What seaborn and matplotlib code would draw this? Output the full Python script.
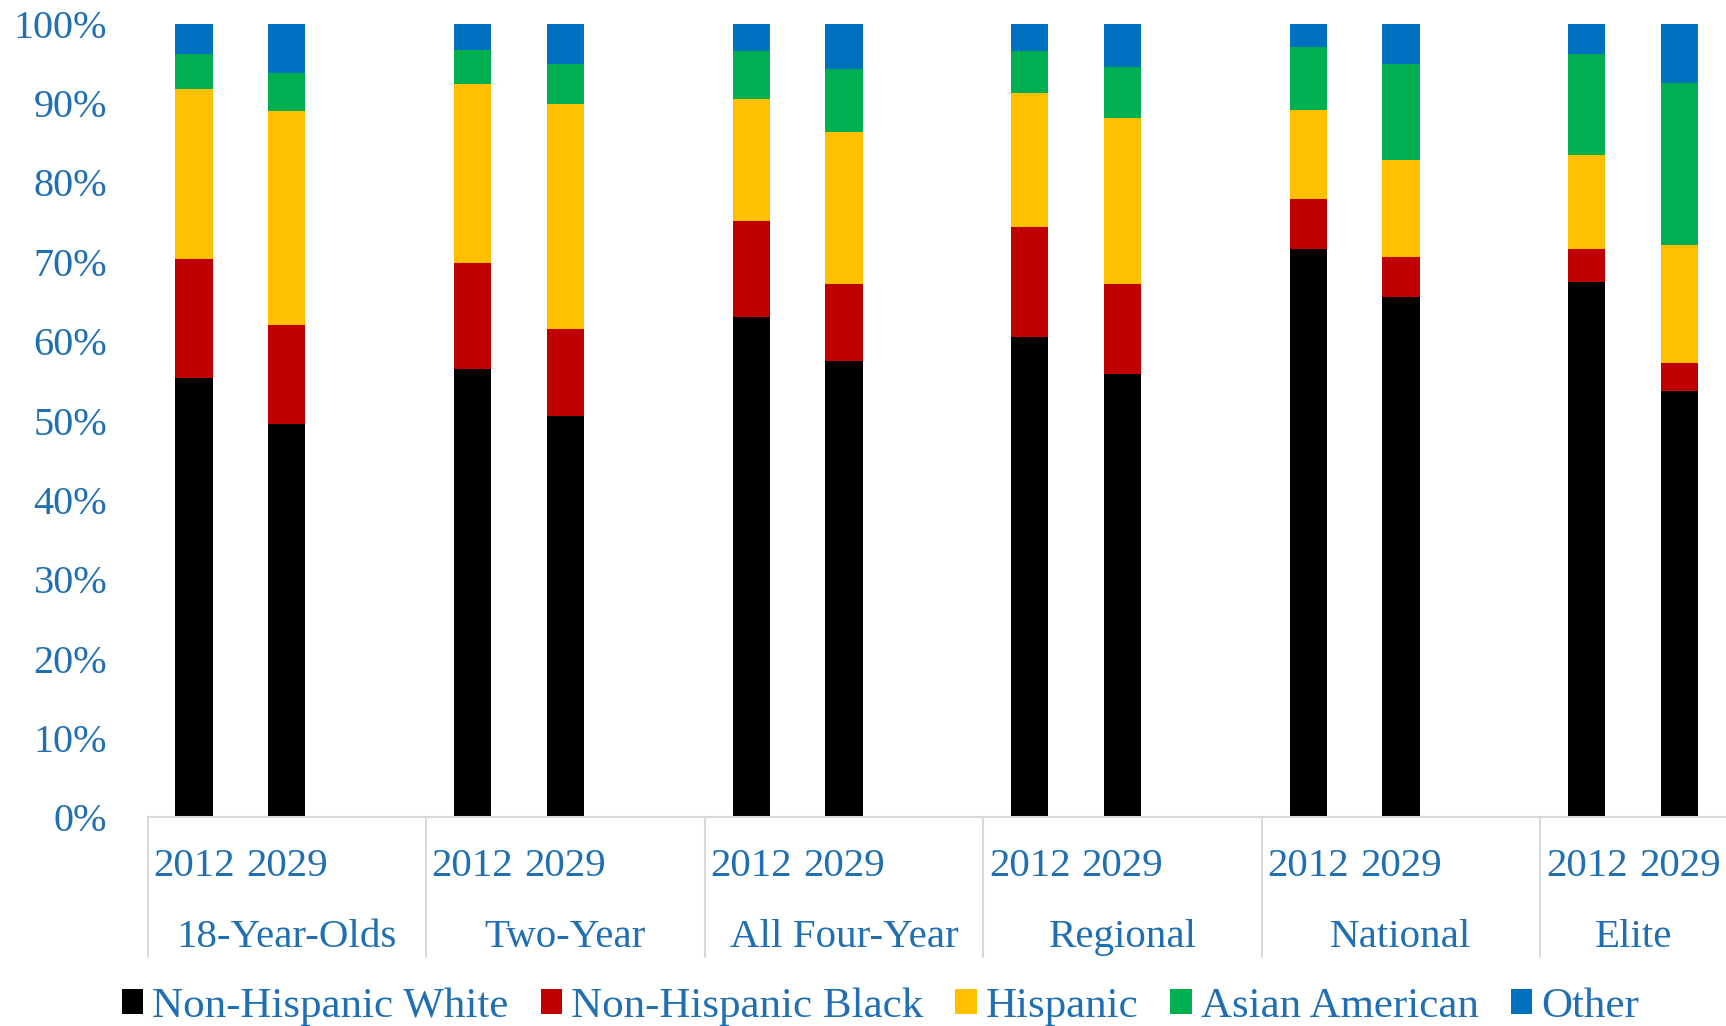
import pandas as pd
import matplotlib.pyplot as plt
import matplotlib.transforms as mtransforms
from matplotlib.patches import Patch
import seaborn as sns

# grupe si ani
groups = ["18-Year-Olds", "Two-Year", "All Four-Year", "Regional", "National", "Elite"]
years = ["2012", "2029"]
races = ["Non-Hispanic White", "Non-Hispanic Black", "Hispanic", "Asian American", "Other"]
colors = ["#000000", "#C00000", "#FFC000", "#00B050", "#0070C0"]

# procente, ordinea: 2012, 2029 pentru fiecare grupa
white = [55.3, 49.5, 56.5, 50.6, 63.1, 57.5, 60.5, 55.9, 71.6, 65.5, 67.4, 53.7]
black = [15.0, 12.5, 13.4, 10.9, 12.0, 9.7, 13.9, 11.3, 6.3, 5.1, 4.2, 3.5]
hispanic = [21.5, 27.0, 22.5, 28.4, 15.4, 19.1, 16.9, 20.9, 11.2, 12.2, 11.8, 14.9]
asian = [4.4, 4.8, 4.3, 5.0, 6.0, 8.0, 5.2, 6.4, 8.0, 12.1, 12.8, 20.4]
other = [3.8, 6.2, 3.3, 5.1, 3.5, 5.7, 3.5, 5.5, 2.9, 5.1, 3.8, 7.5]

text_blue = "#1F6FB2"
grid_gray = "#D9D9D9"

# tabel lung
slots = [f"{g}|{y}" for g in groups for y in years]
df = pd.DataFrame({"slot": slots, races[0]: white, races[1]: black, races[2]: hispanic,
                   races[3]: asian, races[4]: other})
cum = df[races].cumsum(axis=1)
cum["slot"] = df["slot"]

# ordinea categoriilor, cu un loc gol dupa fiecare grupa
order = []
for g in groups:
    order += [f"{g}|{y}" for y in years] + [f"{g}|gap"]

sns.set_style("white")
plt.rcParams["font.family"] = ["Liberation Serif", "DejaVu Serif"]

fig = plt.figure(figsize=(17.26, 10.26), dpi=100)
ax = fig.add_axes([0.0855, 0.2034, 0.9145, 0.7735])

# stivuire: desenam totalurile cumulate de sus in jos
for race, c in reversed(list(zip(races, colors))):
    sns.barplot(data=cum, x="slot", y=race, order=order, color=c, saturation=1,
                width=0.4, errorbar=None, linewidth=0, ax=ax)

ax.set_ylabel("")
ax.set_xlabel("")
for s in ax.spines.values():
    s.set_visible(False)

ax.set_yticks(range(0, 101, 10))
ax.set_yticklabels([f"{v}%" for v in range(0, 101, 10)])
ax.tick_params(axis="y", length=0, pad=29, labelsize=29, labelcolor=text_blue)

ax.set_xticks(range(len(order)))
ax.set_xticklabels([s.split("|")[1] if not s.endswith("gap") else "" for s in order])
ax.tick_params(axis="x", length=0, pad=22, labelsize=29.5, labelcolor=text_blue)

# graficul original e taiat in dreapta, in mijlocul ultimului loc gol
xmin, xmax = -0.5, 16.5
ax.set_xlim(xmin, xmax)
ax.set_ylim(0, 100)

# linia de baza si separatoarele dintre grupe
trans = mtransforms.blended_transform_factory(ax.transData, ax.transAxes)
ax.plot([xmin, xmax], [0, 0], color=grid_gray, lw=1.5, transform=trans, clip_on=False)
for i, g in enumerate(groups):
    left = 3 * i - 0.5
    ax.plot([left, left], [0, -0.176], color=grid_gray, lw=1.5, transform=trans, clip_on=False)
    right = min(left + 3, xmax)
    ax.text((max(left, xmin) + right) / 2, -0.1634, g, transform=trans, ha="center",
            va="baseline", fontsize=29.5, color=text_blue)
ax.set_xlim(xmin, xmax)

handles = [Patch(facecolor=c, edgecolor="none", label=r) for r, c in zip(races, colors)]
fig.legend(handles=handles, loc="center", bbox_to_anchor=(0.51, 0.019), ncol=5,
           frameon=False, fontsize=31, labelcolor=text_blue, handlelength=0.5,
           handleheight=0.5, handletextpad=0.2, columnspacing=0.75)

fig.savefig("out.png", dpi=100)
